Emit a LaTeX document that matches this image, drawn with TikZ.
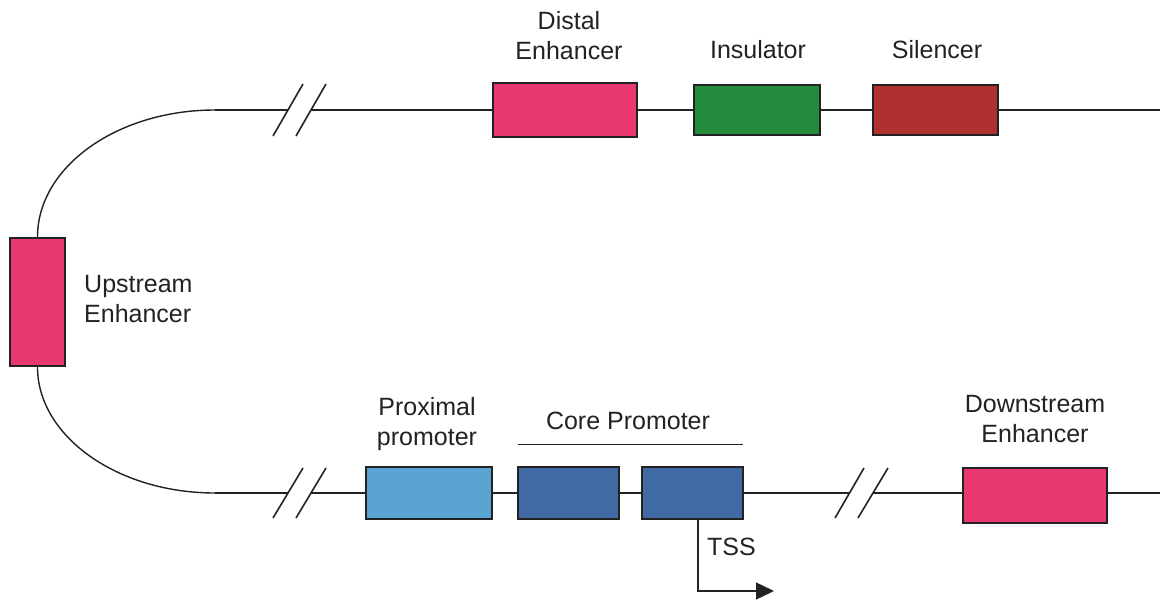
\documentclass[tikz,border=0pt]{standalone}
\usepackage{fontspec}
\setmainfont{Liberation Sans}
\usetikzlibrary{arrows.meta}
\definecolor{magentabox}{HTML}{E8386F}
\definecolor{greenbox}{HTML}{248A3C}
\definecolor{redbox}{HTML}{B03030}
\definecolor{lightbluebox}{HTML}{58A3D2}
\definecolor{corebox}{HTML}{4169A3}
\definecolor{edge}{HTML}{222222}
\begin{document}
\begin{tikzpicture}[x=1pt,y=-1pt,
  elem/.style={draw=edge,line width=2pt,rectangle,inner sep=0pt},
  dna/.style={draw=edge,line width=1.4pt},
  brk/.style={draw=edge,line width=1.6pt},
  lbl/.style={font=\fontsize{25}{30}\selectfont,text=edge,align=center,inner sep=0pt}]
\useasboundingbox (0,0) rectangle (1160,606);
% elements
\node[elem,fill=magentabox,minimum width=144pt,minimum height=54pt] (de) at (565,110) {};
\node[elem,fill=greenbox,minimum width=126pt,minimum height=50pt] (ins) at (757,110) {};
\node[elem,fill=redbox,minimum width=125pt,minimum height=50pt] (sil) at (935,110) {};
\node[elem,fill=magentabox,minimum width=55pt,minimum height=128pt] (ue) at (37.5,302) {};
\node[elem,fill=lightbluebox,minimum width=126pt,minimum height=52pt] (pp) at (429,493) {};
\node[elem,fill=corebox,minimum width=101pt,minimum height=52pt] (cp1) at (568.5,493) {};
\node[elem,fill=corebox,minimum width=101pt,minimum height=52pt] (cp2) at (692.5,493) {};
\node[elem,fill=magentabox,minimum width=144pt,minimum height=55pt] (dse) at (1035,495) {};
% coordinates
\coordinate (tstart) at (215,110);
\coordinate (tb1) at (288,110);
\coordinate (tb2) at (311,110);
\coordinate (tend) at (1160,110);
\coordinate (bstart) at (215,493);
\coordinate (bb1) at (288,493);
\coordinate (bb2) at (311,493);
\coordinate (bb3) at (850,493);
\coordinate (bb4) at (873,493);
\coordinate (bend) at (1160,493);
% DNA line
\draw[dna] (tstart) .. controls (117,110) and (37.5,167) .. (ue.north);
\draw[dna] (ue.south) .. controls (37.5,436) and (117,493) .. (bstart);
\draw[dna] (tstart) -- (tb1);
\draw[dna] (tb2) -- (de.west);
\draw[dna] (de.east) -- (ins.west);
\draw[dna] (ins.east) -- (sil.west);
\draw[dna] (sil.east) -- (tend);
\draw[dna] (bstart) -- (bb1);
\draw[dna] (bb2) -- (pp.west);
\draw[dna] (pp.east) -- (cp1.west);
\draw[dna] (cp1.east) -- (cp2.west);
\draw[dna] (cp2.east) -- (bb3);
\draw[dna] (bb4) -- (dse.west |- bend);
\draw[dna] (dse.east |- bend) -- (bend);
% break marks
\draw[brk] (273,136) -- (303,84);
\draw[brk] (296,136) -- (326,84);
\draw[brk] (273,518) -- (303,468);
\draw[brk] (296,518) -- (326,468);
\draw[brk] (835,518) -- (864,468);
\draw[brk] (858,518) -- (888,468);
% labels
\node[lbl] (tde) at (569,36) {Distal\\Enhancer};
\node[lbl] (tins) at (758,50) {Insulator};
\node[lbl] (tsil) at (937,50) {Silencer};
\node[lbl,align=left,anchor=west] (tue) at (84,299) {Upstream\\Enhancer};
\node[lbl] (tpp) at (427,424) {Proximal\\promoter};
\node[lbl] (tcp) at (628,421) {Core Promoter};
\node[lbl] (tdse) at (1035,419) {Downstream\\Enhancer};
\node[lbl,anchor=west] (ttss) at (707,547) {TSS};
% core promoter overline
\coordinate (ol1) at (518,444);
\coordinate (ol2) at (743,444);
\draw[edge,line width=0.8pt] (ol1) -- (ol2);
% TSS arrow
\coordinate (tsscorner) at (698,591);
\coordinate (tsstip) at (774,591);
\draw[edge,line width=1.4pt,-{Triangle[length=18pt,width=17pt]}] (cp2.south -| tsscorner) -- (tsscorner) -- (tsstip);
\end{tikzpicture}
\end{document}
